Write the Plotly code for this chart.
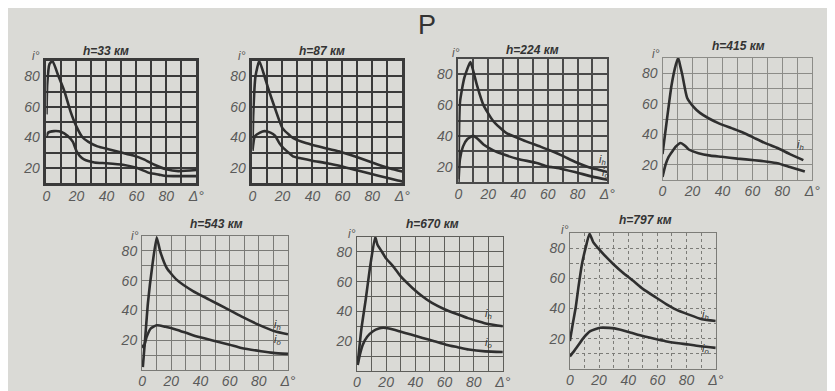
import plotly.graph_objects as go

W, H = 835, 391

# ---------------- data ----------------
TITLES = ["h=33 км", "h=87 км", "h=224 км", "h=415 км", "h=543 км", "h=670 км", "h=797 км"]

# h = 33 km
D33_h = [0, 0.5, 2, 4, 8, 12, 16, 20, 24, 28, 34, 42, 50, 58, 65, 72, 80, 88, 100]
I33_h = [55, 75, 88, 90, 80, 70, 57, 47, 40, 37, 34, 32, 30, 28, 25.5, 22, 19, 17.8, 18.5]
D33_o = [0, 1, 5, 10, 14, 17.6, 20, 22, 25, 32, 40, 51, 60, 69, 75, 80, 90, 100]
I33_o = [40, 43, 44, 43.5, 41, 37, 31, 28, 25.5, 23.5, 23, 22, 20, 16.5, 15.5, 14.6, 14.5, 14.5]

# h = 87 km
D87_h = [0, 0.5, 2, 4.5, 8, 10.5, 15, 20, 27, 33, 40, 50, 57.6, 65, 71, 84, 92, 100]
I87_h = [32, 55, 80, 90, 80, 72, 59, 46, 39.5, 37, 35, 32.5, 30.8, 28.5, 26.5, 22, 19.5, 17.5]
D87_o = [0, 1.5, 5, 8, 12, 15, 18, 20.5, 24, 27, 33, 40, 50, 58, 65, 71, 84, 97, 100]
I87_o = [31, 40.5, 43, 44, 43, 41, 36, 33, 30, 27.5, 26, 24.6, 23, 21.3, 19.5, 18, 14.8, 11.6, 11]

# h = 224 km
D224_h = [0, 1, 4, 8, 10, 12.4, 16.8, 23.4, 32, 45, 55, 63, 70, 78.5, 88, 94, 100]
I224_h = [12, 62, 78, 88, 82, 73, 60, 49.5, 42, 36.6, 33, 30, 27, 23, 19.5, 18, 16.5]
D224_o = [0, 1, 3, 6, 10, 13, 16.8, 23.4, 30, 40, 52, 60, 67.5, 80, 90, 100]
I224_o = [10, 25, 33, 38, 40, 38, 34.4, 30.6, 28, 25, 22.5, 20, 19, 16, 13.5, 11.5]

# h = 415 km
D415_h = [0, 3, 6, 9, 10.5, 12, 13.2, 16.4, 20.7, 25, 30.7, 38, 46, 54, 61.4, 69, 76.8, 85, 94]
I415_h = [27, 50, 72, 86, 90, 84, 79, 64, 58, 54, 50.5, 47, 44, 41, 37.5, 34, 31, 27, 23]
D415_o = [0, 2, 4, 6.6, 9, 12, 15, 17.5, 24, 32, 39.5, 50, 61.4, 70, 76.8, 85, 95]
I415_o = [12, 20, 25, 28.8, 32, 34.3, 32.5, 30, 27.6, 26, 25.2, 24, 23, 22, 21, 18.5, 15.5]

# h = 543 km
D543_h = [0.5, 2, 4, 7, 10, 12.4, 16.9, 23.6, 34.9, 46, 57, 68, 79.7, 90.9, 100]
I543_h = [2, 20, 45, 70, 89, 79.7, 68.5, 60.7, 53, 47.3, 41.7, 36, 30.5, 26, 24]
D543_o = [0, 1, 3, 6, 10, 16, 23.6, 30, 37, 50.5, 60, 68, 81.5, 90, 100]
I543_o = [17, 15, 22, 28, 30, 29, 27.1, 25, 22.6, 19.3, 17, 14.8, 12.6, 11.5, 10.8]

# h = 670 km
D670_h = [0.5, 3, 6, 9, 12.5, 14, 16.9, 20, 24.8, 30, 38, 45, 51.4, 60, 69.4, 76, 83, 90, 100]
I670_h = [5, 28, 48, 70, 90, 85, 80.4, 75.5, 70.3, 63.5, 55.8, 50, 45.7, 41.5, 37.9, 35.5, 33.4, 31.5, 30]
D670_o = [0.5, 2, 4, 7, 11, 15, 18, 22, 29, 37, 45, 53, 61, 69, 76.6, 88, 100]
I670_o = [4, 11, 17.7, 23, 26.7, 28.5, 29, 28.5, 26.7, 24.5, 22.2, 20, 17.7, 16, 14.4, 13.2, 12.8]

# h = 797 km
D797_h = [0, 2, 4, 6, 8.3, 11, 13.5, 16, 20.7, 25, 29.7, 36, 43.2, 50, 59, 66, 72.5, 81.5, 90.5, 100]
I797_h = [18.5, 30, 40.7, 55, 69.5, 81, 89.5, 84, 78.5, 74, 69.5, 64, 58.5, 53, 47.3, 43, 39.5, 36, 32.9, 31.8]
D797_o = [0, 3, 6, 9.5, 14, 20.7, 27, 34, 42, 50, 58, 65.5, 73, 81.5, 90, 100]
I797_o = [8.4, 12, 16, 20.7, 25, 27.3, 27.2, 26.2, 24, 21.8, 20, 18.4, 17.2, 16.2, 15, 14]

X_TICKS = [0, 10, 20, 30, 40, 50, 60, 70, 80, 90, 100]
X_TEXT = ["0", "", "20", "", "40", "", "60", "", "80", "", "Δ°"]

# ---------------- layout of panels (pixel boxes) ----------------
BG = "#dadad6"
INK = "#3a3a3a"
LABEL = "#5a5a5a"
FONT = "Liberation Sans Narrow, Liberation Sans, Arial, sans-serif"

panels = [
    dict(box=(35, 187, 53, 175), yr=(10, 90), grid=(INK, 2.2, "solid"), border=2.6,
         h=(D33_h, I33_h), o=(D33_o, I33_o), lh=(105, 23), lo=(105, 13), title=(95, 43), ideg=(24, 48)),
    dict(box=(244, 396, 53, 175), yr=(10, 90), grid=(INK, 2.2, "solid"), border=2.6,
         h=(D87_h, I87_h), o=(D87_o, I87_o), lh=(103, 24), lo=(103, 16), title=(315, 43), ideg=(233, 48)),
    dict(box=(453, 604, 51, 174), yr=(10, 90), grid=("#4a4a4a", 1.8, "solid"), border=2.2,
         h=(D224_h, I224_h), o=(D224_o, I224_o), lh=(97, 24), lo=(99, 16), title=(528, 42), ideg=(450, 45)),
    dict(box=(660, 812, 50, 172), yr=(10, 90), grid=("#8c8c88", 1.0, "solid"), border=1.2,
         h=(D415_h, I415_h), o=(D415_o, I415_o), lh=(92, 33), lo=(103, 16), title=(737, 38), ideg=(653, 46)),
    dict(box=(132, 280, 228, 362), yr=(0, 90), grid=("#7a7a76", 1.1, "solid"), border=1.2,
         h=(D543_h, I543_h), o=(D543_o, I543_o), lh=(93, 30), lo=(93, 20), title=(207, 216), ideg=(125, 228)),
    dict(box=(350, 498, 229, 363), yr=(0, 90), grid=("#5e5e5a", 1.3, "solid"), border=1.4,
         h=(D670_h, I670_h), o=(D670_o, I670_o), lh=(90, 38), lo=(90, 19), title=(427, 216), ideg=(345, 226)),
    dict(box=(566, 714, 225, 361), yr=(0, 90), grid=("#7c7c78", 1.2, "dot"), border=1.0,
         h=(D797_h, I797_h), o=(D797_o, I797_o), lh=(93, 36), lo=(93, 13), title=(643, 212), ideg=(561, 222)),
]


def pxx(p):
    return p / W


def pxy(p):
    return 1 - p / H


fig = go.Figure()
annotations = []
layout = {}

for k, p in enumerate(panels, start=1):
    xa = "x" if k == 1 else f"x{k}"
    ya = "y" if k == 1 else f"y{k}"
    l, r, t, b = p["box"]
    y0, y1 = p["yr"]
    gcol, gw, gdash = p["grid"]
    yt = list(range(y0, y1 + 1, 10))
    ytext = [str(v) if v in (20, 40, 60, 80) else "" for v in yt]

    for (dx, dy) in (p["h"], p["o"]):
        fig.add_trace(go.Scatter(
            x=dx, y=dy, mode="lines", xaxis=xa, yaxis=ya,
            line=dict(color="#2f2f2f", width=2.6, shape="spline", smoothing=0.5),
            showlegend=False, hoverinfo="skip", cliponaxis=False))

    axis_common = dict(
        showgrid=True, gridcolor=gcol, gridwidth=gw, griddash=gdash,
        zeroline=False, showline=True, linecolor=gcol, linewidth=p["border"], mirror=True,
        ticks="", tickfont=dict(family=FONT, size=14, color=LABEL, style="italic"),
        fixedrange=True,
    )
    layout["xaxis" if k == 1 else f"xaxis{k}"] = dict(
        axis_common, domain=[pxx(l), pxx(r)], range=[0, 100],
        tickmode="array", tickvals=X_TICKS, ticktext=X_TEXT,
        anchor=ya, ticklabelstandoff=-2)
    layout["yaxis" if k == 1 else f"yaxis{k}"] = dict(
        axis_common, domain=[pxy(b), pxy(t)], range=[y0, y1],
        tickmode="array", tickvals=yt, ticktext=ytext,
        anchor=xa, ticklabelstandoff=1)

    annotations.append(dict(
        text=TITLES[k - 1], xref="paper", yref="paper",
        x=pxx(p["title"][0]), y=pxy(p["title"][1]), showarrow=False,
        font=dict(family=FONT, size=12, color="#333333", style="italic", weight="bold"),
        xanchor="center", yanchor="middle"))
    annotations.append(dict(
        text="<i>i°</i>", xref="paper", yref="paper",
        x=pxx(p["ideg"][0]), y=pxy(p["ideg"][1]), showarrow=False,
        font=dict(family=FONT, size=12, color=LABEL), xanchor="center", yanchor="middle"))
    annotations.append(dict(
        text="<i>i<sub>h</sub></i>", xref=xa, yref=ya, x=p["lh"][0], y=p["lh"][1],
        showarrow=False, font=dict(family=FONT, size=11, color="#333333"),
        xanchor="center", yanchor="middle"))
    annotations.append(dict(
        text="<i>i<sub>o</sub></i>", xref=xa, yref=ya, x=p["lo"][0], y=p["lo"][1],
        showarrow=False, font=dict(family=FONT, size=11, color="#333333"),
        xanchor="center", yanchor="middle"))

annotations.append(dict(
    text="P", xref="paper", yref="paper", x=pxx(421), y=pxy(17), showarrow=False,
    font=dict(family="Liberation Sans, Arial, sans-serif", size=27, color="#333333"),
    xanchor="center", yanchor="middle"))

fig.update_layout(
    width=W, height=H, margin=dict(l=0, r=0, t=0, b=0),
    paper_bgcolor=BG, plot_bgcolor=BG, showlegend=False,
    annotations=annotations, **layout)

fig.write_html("out.html", config={"displayModeBar": False})
